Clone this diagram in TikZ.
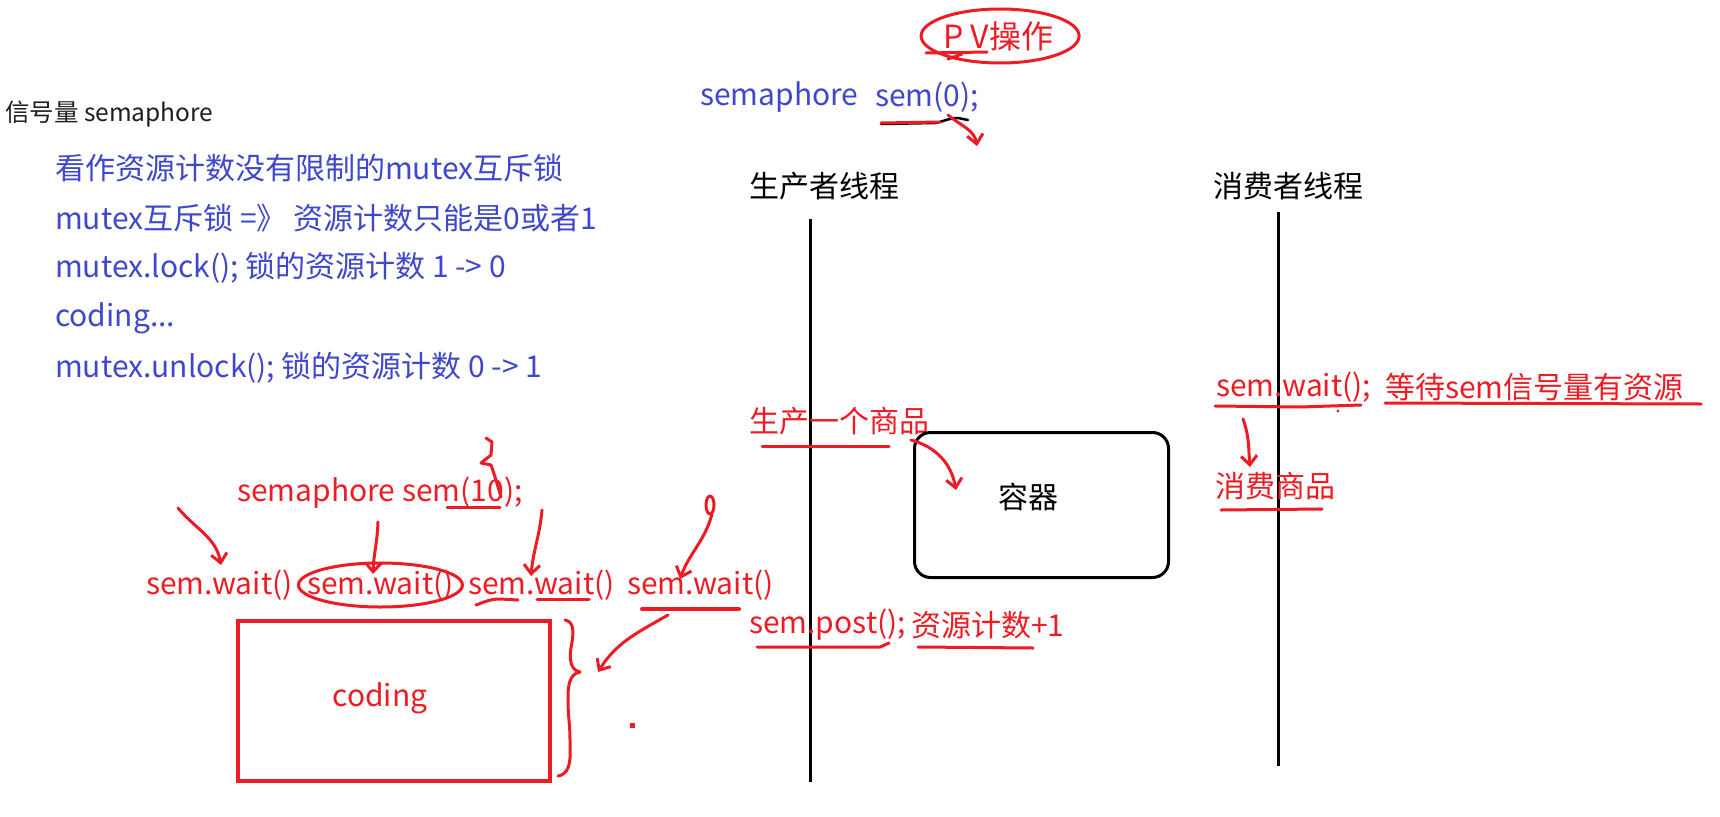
\documentclass[tikz,border=0pt]{standalone}
\usepackage{fontspec}
\setmainfont{Noto Sans CJK SC}
\usetikzlibrary{arrows.meta,positioning}
\definecolor{penred}{RGB}{237,28,36}
\definecolor{docblue}{RGB}{63,72,204}
\definecolor{docblack}{RGB}{30,30,30}

\begin{document}
\begin{tikzpicture}[x=1pt, y=1pt, txt/.style={anchor=west, inner sep=0pt, font=\fontsize{30}{36}\selectfont}, doc/.style={txt, text=docblue}, note/.style={txt, text=penred}, head/.style={txt, text=black}, pen/.style={draw=penred, line width=3pt, line cap=round, line join=round}, arr/.style={pen, -{Straight Barb[length=9pt,width=16pt]}}, life/.style={draw=black, line width=3pt}]
\fill[white] (0,0) rectangle (1720,-816);
\useasboundingbox (0,0) rectangle (1720,-816);

% notes on the left
\node[txt, text=docblack, font=\fontsize{24.5}{28}\selectfont] (title) at (5,-114) {信号量 semaphore};
\node[doc] (d1) at (55,-168) {看作资源计数没有限制的mutex互斥锁};
\node[doc] (d2) at (55,-218) {mutex互斥锁 =》 资源计数只能是0或者1};
\node[doc] (d3) at (55,-268) {mutex.lock(); 锁的资源计数 1 -> 0};
\node[doc] (d4) at (55,-318) {coding...};
\node[doc] (d5) at (55,-368) {mutex.unlock(); 锁的资源计数 0 -> 1};

% PV header
\node[note, font=\fontsize{32}{36}\selectfont] (pv) at (943,-36) {P V操作};
\draw[pen] ([xshift=2pt]pv.center) ellipse [x radius=79pt, y radius=27pt];
\draw[pen] (926,-53) -- (987,-52);
\draw[pen] (948,-59) -- (962,-54);
\node[doc] (semkw) at (700,-97) {semaphore};
\node[doc] (sem0) at (875,-97) {sem(0);};
\draw[line width=2.5pt, line cap=round] (881,-124) -- (935,-123) to[out=10,in=180] (958,-118) -- (968,-120);
\draw[pen] (881,-123) -- (940,-122);
\coordinate (s0tip) at (977,-146);
\draw[arr] (948,-115) to[out=-40,in=100] (s0tip);

% threads
\node[head] (prod) at (749,-186) {生产者线程};
\node[head] (cons) at (1213,-186) {消费者线程};
\coordinate (prodtop) at (810,-219);
\coordinate (prodbot) at (810,-782);
\coordinate (constop) at (1278,-212);
\coordinate (consbot) at (1278,-766);
\draw[life] (prodtop) -- (prodbot);
\draw[life] (constop) -- (consbot);

% consumer side
\node[note] (cw) at (1216,-387) {sem.wait();};
\node[note] (cwnote) at (1385,-387) {等待sem信号量有资源};
\draw[pen] (1215,-406) -- (1300,-407) -- (1361,-405);
\draw[pen] (1385,-403) -- (1701,-404);
\fill[penred] (1338,-411) circle (1.6pt);
\node[note] (eat) at (1215,-486) {消费商品};
\draw[pen] (1221,-510) -- (1322,-509);
\coordinate (cwfrom) at (1243,-419);
\coordinate (cwto) at (1250,-467);
\draw[arr] (cwfrom) to[out=-70,in=95] (cwto);

% producer side
\node[note] (make) at (749,-421) {生产一个商品};
\draw[pen] (762,-446) -- (889,-446);
\node[draw, line width=3pt, rounded corners=16pt, minimum width=254pt, minimum height=145pt, inner sep=0pt] (cont) at (1041.5,-505) {};
\node[txt, anchor=center] (contname) at (1028,-497) {容器};
\coordinate (mkfrom) at (911,-440);
\coordinate (mkto) at (956,-490);
\draw[arr] (mkfrom) to[out=-15,in=100] (mkto);
\node[note] (post) at (749,-625) {sem.post();};
\node[note] (cnt) at (911,-625) {资源计数+1};
\draw[pen] (757,-647) -- (880,-647) -- (889,-643);
\draw[pen] (918,-647) -- (1033,-648);

% semaphore sem(10) example
\node[note] (sem10) at (237,-493) {semaphore sem(10);};
\draw[pen] (447,-507) -- (500,-507);
\draw[pen] (486,-438) -- (492,-442) -- (491,-455) -- (481,-463) -- (491,-465) -- (496,-480) -- (501,-497);
\node[note] (w1) at (146,-585) {sem.wait()};
\node[note] (w2) at (307,-585) {sem.wait()};
\node[note] (w3) at (468,-585) {sem.wait()};
\node[note] (w4) at (627,-585) {sem.wait()};
\draw[pen] (w2.center) ellipse [x radius=82pt, y radius=22pt];
\draw[pen] (476,-605) to[out=20,in=180] (500,-599) -- (518,-600);
\draw[pen] (537,-599) -- (589,-599);
\draw[pen, line width=4pt] (642,-609) -- (739,-609);
\coordinate (a1s) at (178,-508);
\coordinate (a1e) at (221,-565);
\coordinate (a2s) at (378,-522);
\coordinate (a2e) at (373,-574);
\coordinate (a3s) at (542,-510);
\coordinate (a3e) at (531,-576);
\coordinate (a4s) at (712,-514);
\coordinate (a4e) at (680,-579);
\draw[arr] (a1s) to[out=-50,in=100] (a1e);
\draw[arr] (a2s) to[out=-92,in=88] (a2e);
\draw[arr] (a3s) to[out=-95,in=85] (a3e);
\draw[pen] (710,-505) ellipse [x radius=4pt, y radius=9pt];
\draw[arr] (a4s) to[out=-105,in=70] (a4e);

% coding block
\node[draw=penred, line width=4pt, minimum width=312pt, minimum height=160pt, inner sep=0pt] (code) at (393.5,-700.5) {};
\node[note, anchor=center] (codename) at (380,-698) {coding};
\draw[pen] (565,-620) to[out=-10,in=80] (571,-648) to[out=-100,in=170] (580,-672) to[out=190,in=90] (568,-700) to[out=-90,in=90] (570,-740) to[out=-90,in=10] (558,-776);
\coordinate (cdfrom) at (668,-615);
\coordinate (cdto) at (598,-672);
\draw[arr] (cdfrom) to[out=-150,in=58] (cdto);
\fill[penred] (629.5,-727.5) rectangle (634.5,-722.5);
\end{tikzpicture}
\end{document}
